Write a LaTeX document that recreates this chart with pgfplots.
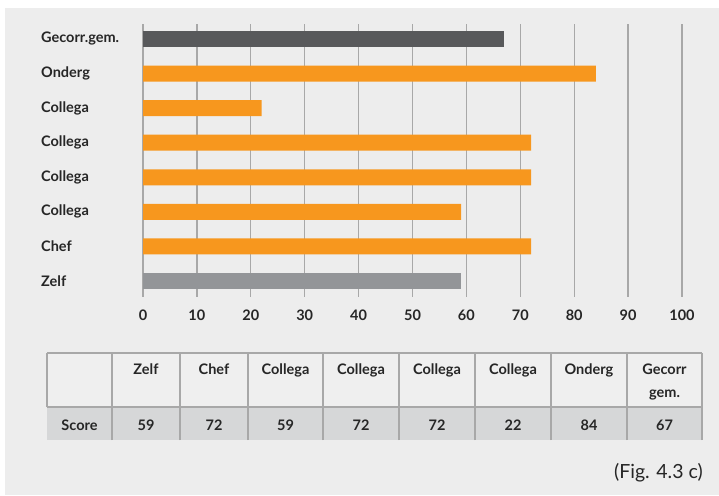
\documentclass[border=0pt]{standalone}
\usepackage{fontspec}
\setmainfont{Lato}
\usepackage{pgfplots}
\pgfplotsset{compat=1.18}
\definecolor{bg}{HTML}{EDEDED}
\definecolor{orng}{HTML}{F7971E}
\definecolor{dgray}{HTML}{58595B}
\definecolor{mgray}{HTML}{939598}
\definecolor{gridc}{HTML}{A8A8A8}
\definecolor{txt}{HTML}{262626}
\definecolor{rowc}{HTML}{D6D7D8}
\definecolor{hdrc}{HTML}{EFEFEF}
\begin{document}
\begin{tikzpicture}[x=1pt,y=1pt]
\fill[white] (0,0) rectangle (719,495);
\fill[bg] (5,0) rectangle (719,487);
\begin{axis}[
  at={(143pt,198pt)}, anchor=south west,
  scale only axis, width=539pt, height=273pt,
  xbar, bar width=16pt, bar shift=0pt,
  xmin=0, xmax=100, ymin=-0.463, ymax=7.434,
  xtick={0,10,...,100},
  ytick={0,...,7},
  yticklabels={Zelf,Chef,Collega,Collega,Collega,Collega,Onderg,Gecorr.gem.},
  axis line style={draw=none},
  major tick length=0pt,
  xmajorgrids, grid style={draw=gridc, line width=1.3pt},
  tick label style={font=\fontsize{14.5}{16}\selectfont\bfseries, text=txt},
  /pgf/number format/assume math mode=true,
  xticklabel style={anchor=north, inner sep=0pt, yshift=-12.5pt},
  yticklabel style={anchor=west, inner sep=0pt, xshift=-102pt},
]
\addplot[fill=mgray, draw=none] coordinates {(59,0)};
\addplot[fill=orng, draw=none] coordinates {(72,1) (59,2) (72,3) (72,4) (22,5) (84,6)};
\addplot[fill=dgray, draw=none] coordinates {(67,7)};
\end{axis}
% table
\fill[hdrc] (47,88) rectangle (702,142);
\fill[rowc] (47,55) rectangle (702,88);
\begin{scope}[draw=gridc, line width=1.2pt]
\draw (47,142) -- (702,142);
\draw (47,88) -- (702,88);
\draw (47,88) -- (47,142);
\foreach \xx in {112,180,248,323,399,475,551,627,702} {\draw (\xx,55) -- (\xx,142);}
\end{scope}
\begin{scope}[every node/.style={font=\fontsize{14.5}{16}\selectfont\bfseries, text=txt, inner sep=0pt, anchor=base}]
\node at (146,120) {Zelf};
\node at (214,120) {Chef};
\node at (285.5,120) {Collega};
\node at (361,120) {Collega};
\node at (437,120) {Collega};
\node at (513,120) {Collega};
\node at (589,120) {Onderg};
\node at (664.5,120) {Gecorr};
\node at (664.5,98) {gem.};
\node at (79.5,65) {Score};
\node at (146,65) {59};
\node at (214,65) {72};
\node at (285.5,65) {59};
\node at (361,65) {72};
\node at (437,65) {72};
\node at (513,65) {22};
\node at (589,65) {84};
\node at (664.5,65) {67};
\end{scope}
\node[anchor=base east, inner sep=0pt, font=\fontsize{19.5}{22}\selectfont, text=txt] at (703,17) {(Fig. 4.3 c)};
\end{tikzpicture}
\end{document}
